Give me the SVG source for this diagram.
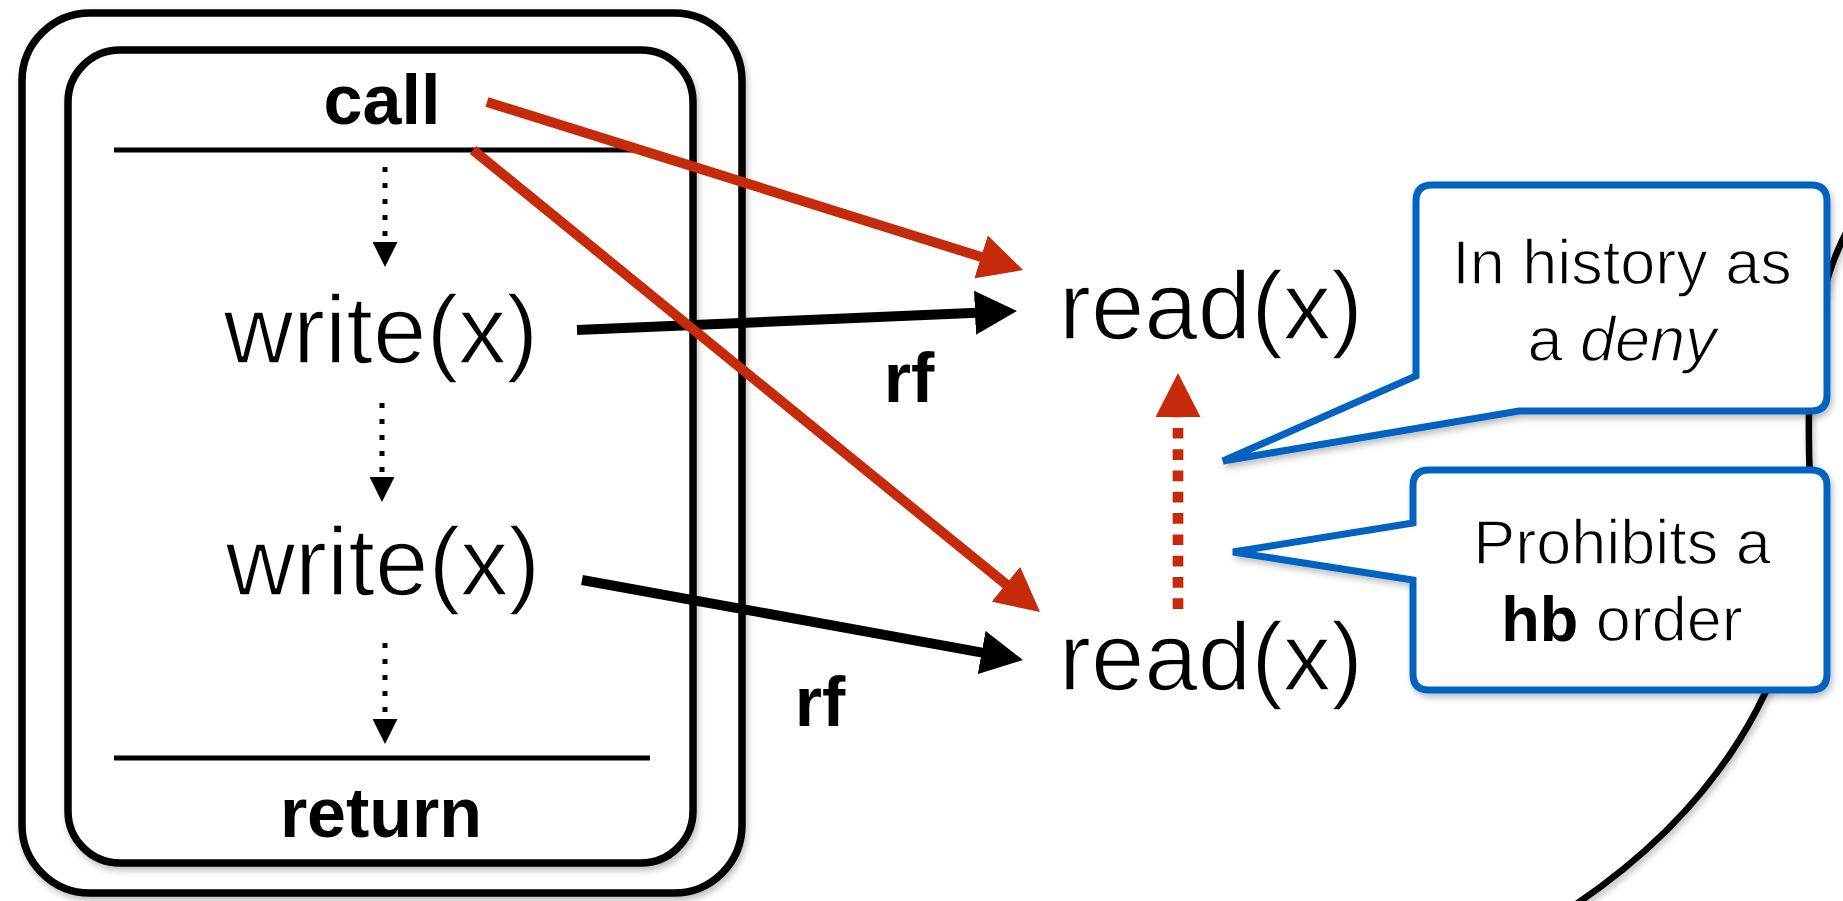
<svg xmlns="http://www.w3.org/2000/svg" width="1843" height="901" viewBox="0 0 1843 901">
<style>
.box{fill:#fff;stroke:#000;stroke-width:7.5}
.lbl{font-family:"Liberation Sans",Arial,sans-serif;fill:#000}
.big{font-size:96px;stroke:#fff;stroke-width:1.6}
.bold{font-weight:bold;font-size:70px}
.ct{font-size:63px;stroke:#fff;stroke-width:1.3}
.sep{stroke:#000;stroke-width:5}
.dot{stroke:#000;stroke-width:5;stroke-dasharray:5 11;fill:none}
.blk{stroke:#000;stroke-width:10;fill:none}
.red{stroke:#c52a0b;stroke-width:10;fill:none}
.reddot{stroke:#c52a0b;stroke-width:10.7;stroke-dasharray:10.7 10.6;fill:none}
.call{fill:#fff;stroke:#0563c1;stroke-width:7;stroke-linejoin:miter;stroke-miterlimit:4}
</style>
<defs>
<filter id="sh" x="-10%" y="-10%" width="120%" height="120%">
<feDropShadow dx="2" dy="4" stdDeviation="3" flood-color="#000" flood-opacity="0.25"/>
</filter>
<marker id="ahS" viewBox="0 0 25 25" refX="1" refY="12.5" markerWidth="25" markerHeight="25" markerUnits="userSpaceOnUse" orient="auto"><path d="M0,0 L25,12.5 L0,25 Z" fill="#000"/></marker>
<marker id="ahB" viewBox="0 0 42 44" refX="2" refY="22" markerWidth="42" markerHeight="44" markerUnits="userSpaceOnUse" orient="auto"><path d="M0,0 L42,22 L0,44 Z" fill="#000"/></marker>
<marker id="ahR" viewBox="0 0 44 45" refX="2" refY="22.5" markerWidth="44" markerHeight="45" markerUnits="userSpaceOnUse" orient="auto"><path d="M0,0 L44,22.5 L0,45 Z" fill="#c52a0b"/></marker>
</defs>
<rect width="1843" height="901" fill="#fff"/>

<g id="boundary">
<path d="M1852,222 C1815,285 1805,370 1810,480 C1812,640 1745,790 1575,905" fill="none" stroke="#000" stroke-width="6.5" filter="url(#sh)"/>
</g>

<g id="method">
<rect class="box" x="22" y="13" width="720" height="880" rx="68" filter="url(#sh)"/>
<rect class="box" x="68" y="50" width="625" height="813" rx="52" filter="url(#sh)"/>
<line class="sep" x1="114" y1="150" x2="636" y2="150"/>
<line class="sep" x1="114" y1="758" x2="650" y2="758"/>
</g>
<g id="call"><text class="lbl bold" x="382" y="124" text-anchor="middle">call</text></g>
<g id="write1"><text class="lbl big" x="381" y="363" text-anchor="middle">write(x)</text></g>
<g id="write2"><text class="lbl big" x="383" y="595" text-anchor="middle">write(x)</text></g>
<g id="return"><text class="lbl bold" x="381" y="837" text-anchor="middle">return</text></g>
<g id="read1"><text class="lbl big" x="1059" y="339">read(x)</text></g>
<g id="read2"><text class="lbl big" x="1059" y="690">read(x)</text></g>

<g id="callout1">
<path class="call" d="M1432,185 H1811 Q1827,185 1827,201 V395 Q1827,411 1811,411 H1519 L1223,461 L1416,376 V201 Q1416,185 1432,185 Z" filter="url(#sh)"/>
<text class="lbl ct" x="1622" y="284" text-anchor="middle">In history as</text>
<text class="lbl ct" x="1622" y="361" text-anchor="middle">a <tspan font-style="italic">deny</tspan></text>
</g>
<g id="callout2">
<path class="call" d="M1429,470 H1811 Q1827,470 1827,486 V674 Q1827,690 1811,690 H1429 Q1413,690 1413,674 V580 L1233,552 L1413,523 V486 Q1413,470 1429,470 Z" filter="url(#sh)"/>
<text class="lbl ct" x="1622" y="564" text-anchor="middle">Prohibits a</text>
<text class="lbl ct" x="1622" y="641" text-anchor="middle"><tspan font-weight="bold" stroke="none">hb</tspan> order</text>
</g>

<g id="connectors">
<line class="dot" x1="385" y1="167" x2="385" y2="243" marker-end="url(#ahS)"/>
<line class="dot" x1="382" y1="403" x2="382" y2="478" marker-end="url(#ahS)"/>
<line class="dot" x1="385" y1="643" x2="385" y2="720" marker-end="url(#ahS)"/>
<line class="blk" x1="577" y1="330" x2="977" y2="312.7" marker-end="url(#ahB)"/>
<line class="blk" x1="582" y1="580" x2="983.6" y2="652.9" marker-end="url(#ahB)"/>
<line class="red" x1="487" y1="102" x2="983" y2="257.5" marker-end="url(#ahR)"/>
<line class="red" x1="473" y1="150" x2="1007.5" y2="585.5" marker-end="url(#ahR)"/>
<line class="reddot" x1="1178" y1="609" x2="1178" y2="415" marker-end="url(#ahR)"/>
<text class="lbl bold" x="909" y="402" text-anchor="middle" font-size="72">rf</text>
<text class="lbl bold" x="820" y="726" text-anchor="middle" font-size="72">rf</text>
</g>
</svg>
